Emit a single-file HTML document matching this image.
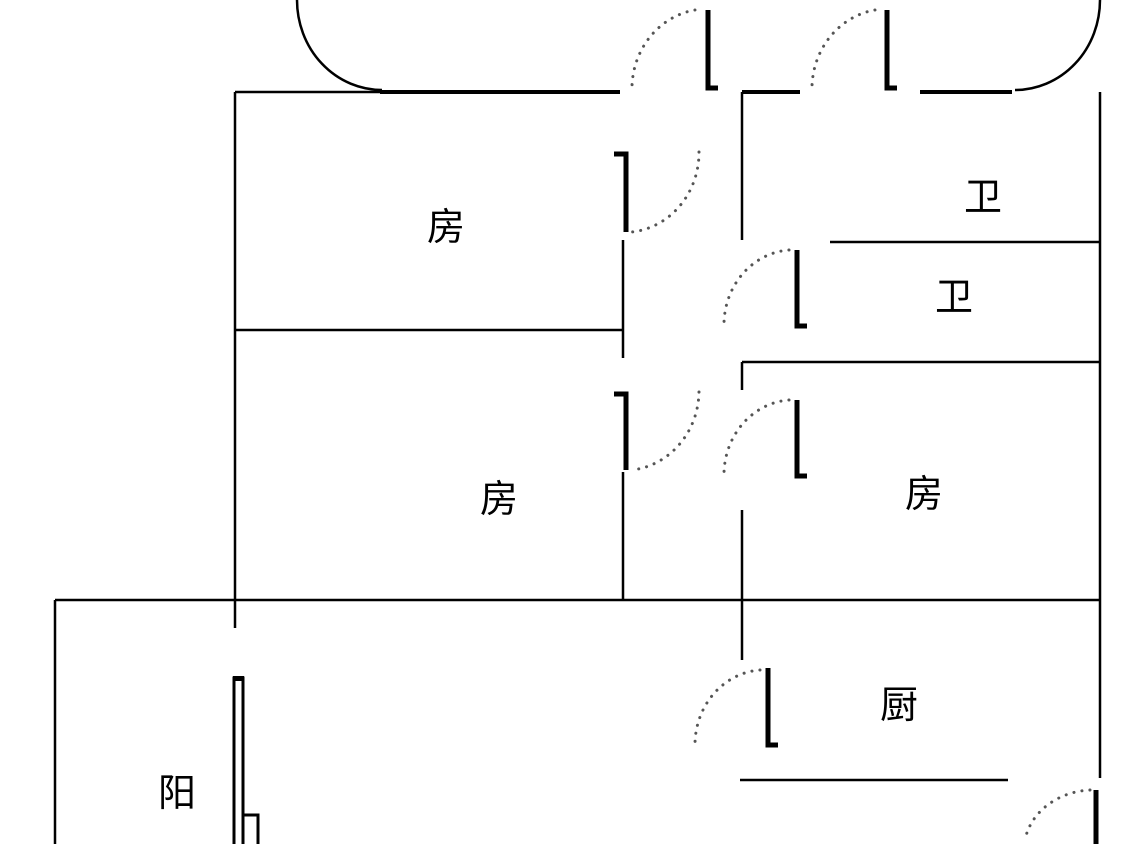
<!DOCTYPE html>
<html><head><meta charset="utf-8"><style>
html,body{margin:0;padding:0;background:#fff;}
svg{display:block}
text{font-family:"Liberation Sans","Noto Sans CJK SC",sans-serif;font-size:38px;fill:#000}
</style></head><body>
<svg width="1125" height="844" viewBox="0 0 1125 844" xmlns="http://www.w3.org/2000/svg">
<g stroke="#000" stroke-width="2.5" fill="none">
<!-- top arcs -->
<path d="M297 0 A85 90 0 0 0 382 90"/>
<path d="M1100 0 A85 90 0 0 1 1015 90"/>
<!-- walls -->
<line x1="235" y1="92" x2="380" y2="92"/>
<line x1="235" y1="92" x2="235" y2="628"/>
<line x1="742" y1="92" x2="742" y2="240"/>
<line x1="1100" y1="92" x2="1100" y2="600"/>
<line x1="830" y1="242" x2="1100" y2="242"/>
<line x1="742" y1="362" x2="1100" y2="362"/>
<line x1="742" y1="362" x2="742" y2="390"/>
<line x1="235" y1="330" x2="623" y2="330"/>
<line x1="623" y1="240" x2="623" y2="358"/>
<line x1="623" y1="472" x2="623" y2="600"/>
<line x1="742" y1="510" x2="742" y2="660"/>
<line x1="55" y1="600" x2="1100" y2="600"/>
<line x1="55" y1="600" x2="55" y2="844"/>
<line x1="1100" y1="600" x2="1100" y2="778"/>
<line x1="740" y1="780" x2="1008" y2="780"/>
</g>
<g stroke="#000" stroke-width="4" fill="none">
<line x1="380" y1="92" x2="620" y2="92"/>
<line x1="742" y1="92" x2="800" y2="92"/>
<line x1="920" y1="92" x2="1012" y2="92"/>
</g>
<!-- door leaves -->
<g stroke="#000" stroke-width="5" fill="none" stroke-linejoin="miter">
<polyline points="708,10 708,88 718,88"/>
<polyline points="887,10 887,88 897,88"/>
<polyline points="614,154 626,154 626,232"/>
<polyline points="614,394 626,394 626,470"/>
<polyline points="797,250 797,326 807,326"/>
<polyline points="797,400 797,476 807,476"/>
<polyline points="768,668 768,745 778,745"/>
<line x1="1096" y1="790" x2="1096" y2="844"/>
</g>
<!-- door swings -->
<g stroke="#555" stroke-width="3" fill="none" stroke-dasharray="0.1 8" stroke-linecap="round">
<path d="M695 10 A75 80 0 0 0 632 92"/>
<path d="M875 10 A75 80 0 0 0 812 92"/>
<path d="M699 152 A75 80 0 0 1 632 232"/>
<path d="M699 392 A75 80 0 0 1 632 470"/>
<path d="M789 250 A70 75 0 0 0 724 326"/>
<path d="M789 400 A70 75 0 0 0 724 476"/>
<path d="M760 670 A70 75 0 0 0 695 746"/>
<path d="M1090 790 A70 60 0 0 0 1025 840"/>
</g>
<!-- balcony window -->
<g stroke="#000" stroke-width="3" fill="#fff">
<rect x="234" y="678" width="9" height="170"/>
<rect x="243" y="815" width="15" height="35"/>
</g>
<rect x="233" y="676" width="11" height="5" fill="#000"/>
<text x="427" y="240">房</text>
<text x="964" y="210">卫</text>
<text x="935" y="310">卫</text>
<text x="480" y="512">房</text>
<text x="905" y="507">房</text>
<text x="880" y="718">厨</text>
<text x="158" y="806">阳</text>
</svg>
</body></html>
